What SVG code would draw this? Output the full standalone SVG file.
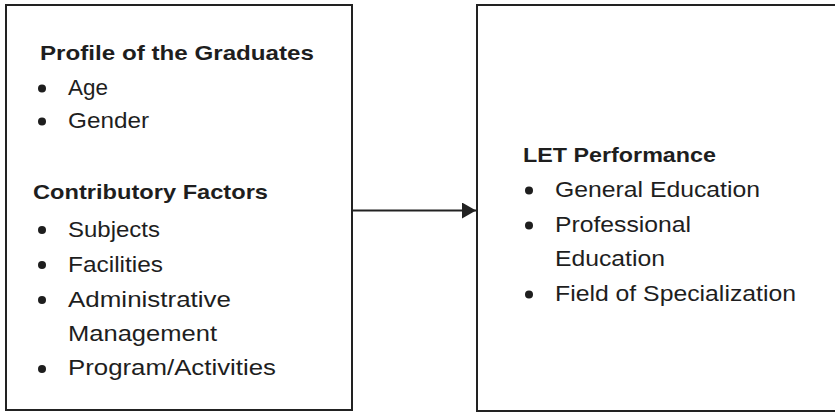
<svg xmlns="http://www.w3.org/2000/svg" width="835" height="412" viewBox="0 0 835 412">
  <style>
    .box { fill: #ffffff; stroke: #222222; stroke-width: 2; }
    .head { font-family: "Liberation Sans", Arial, sans-serif; font-weight: bold; font-size: 20.5px; fill: #1e1e1e; }
    .item { font-family: "Liberation Sans", Arial, sans-serif; font-size: 22px; fill: #1e1e1e; }
    .dot { fill: #1e1e1e; }
    .conn { stroke: #222222; stroke-width: 2; fill: none; }
  </style>
  <defs>
    <marker id="arrowhead" markerUnits="userSpaceOnUse" markerWidth="14" markerHeight="16" refX="14" refY="8" orient="auto">
      <path d="M0,0 L14,8 L0,16 Z" fill="#222222"/>
    </marker>
  </defs>
  <rect x="0" y="0" width="835" height="412" fill="#ffffff"/>

  <g id="connectors">
    <line class="conn" x1="352" y1="210.5" x2="476" y2="210.5" marker-end="url(#arrowhead)"/>
  </g>

  <g id="independent-variables">
    <rect class="box" x="6" y="5" width="346" height="405"/>
    <text class="head" x="40" y="60" textLength="274" lengthAdjust="spacingAndGlyphs">Profile of the Graduates</text>
    <circle class="dot" cx="42" cy="88.5" r="4"/>
    <text class="item" x="68" y="95" textLength="40" lengthAdjust="spacingAndGlyphs">Age</text>
    <circle class="dot" cx="42" cy="121.5" r="4"/>
    <text class="item" x="68" y="128" textLength="81" lengthAdjust="spacingAndGlyphs">Gender</text>
    <text class="head" x="33" y="199" textLength="235" lengthAdjust="spacingAndGlyphs">Contributory Factors</text>
    <circle class="dot" cx="42" cy="230" r="4"/>
    <text class="item" x="68" y="237" textLength="92" lengthAdjust="spacingAndGlyphs">Subjects</text>
    <circle class="dot" cx="42" cy="265" r="4"/>
    <text class="item" x="68" y="272" textLength="95" lengthAdjust="spacingAndGlyphs">Facilities</text>
    <circle class="dot" cx="42" cy="300" r="4"/>
    <text class="item" x="68" y="307" textLength="163" lengthAdjust="spacingAndGlyphs">Administrative</text>
    <text class="item" x="68" y="341" textLength="149" lengthAdjust="spacingAndGlyphs">Management</text>
    <circle class="dot" cx="42" cy="369" r="4"/>
    <text class="item" x="68" y="375" textLength="208" lengthAdjust="spacingAndGlyphs">Program/Activities</text>
  </g>

  <g id="let-performance">
    <rect class="box" x="477" y="5" width="362" height="406"/>
    <text class="head" x="523" y="162" textLength="193" lengthAdjust="spacingAndGlyphs">LET Performance</text>
    <circle class="dot" cx="529" cy="190.5" r="4"/>
    <text class="item" x="555" y="197" textLength="205" lengthAdjust="spacingAndGlyphs">General Education</text>
    <circle class="dot" cx="529" cy="225.5" r="4"/>
    <text class="item" x="555" y="232" textLength="136" lengthAdjust="spacingAndGlyphs">Professional</text>
    <text class="item" x="555" y="266" textLength="110" lengthAdjust="spacingAndGlyphs">Education</text>
    <circle class="dot" cx="529" cy="294.5" r="4"/>
    <text class="item" x="555" y="301" textLength="241" lengthAdjust="spacingAndGlyphs">Field of Specialization</text>
  </g>
</svg>
